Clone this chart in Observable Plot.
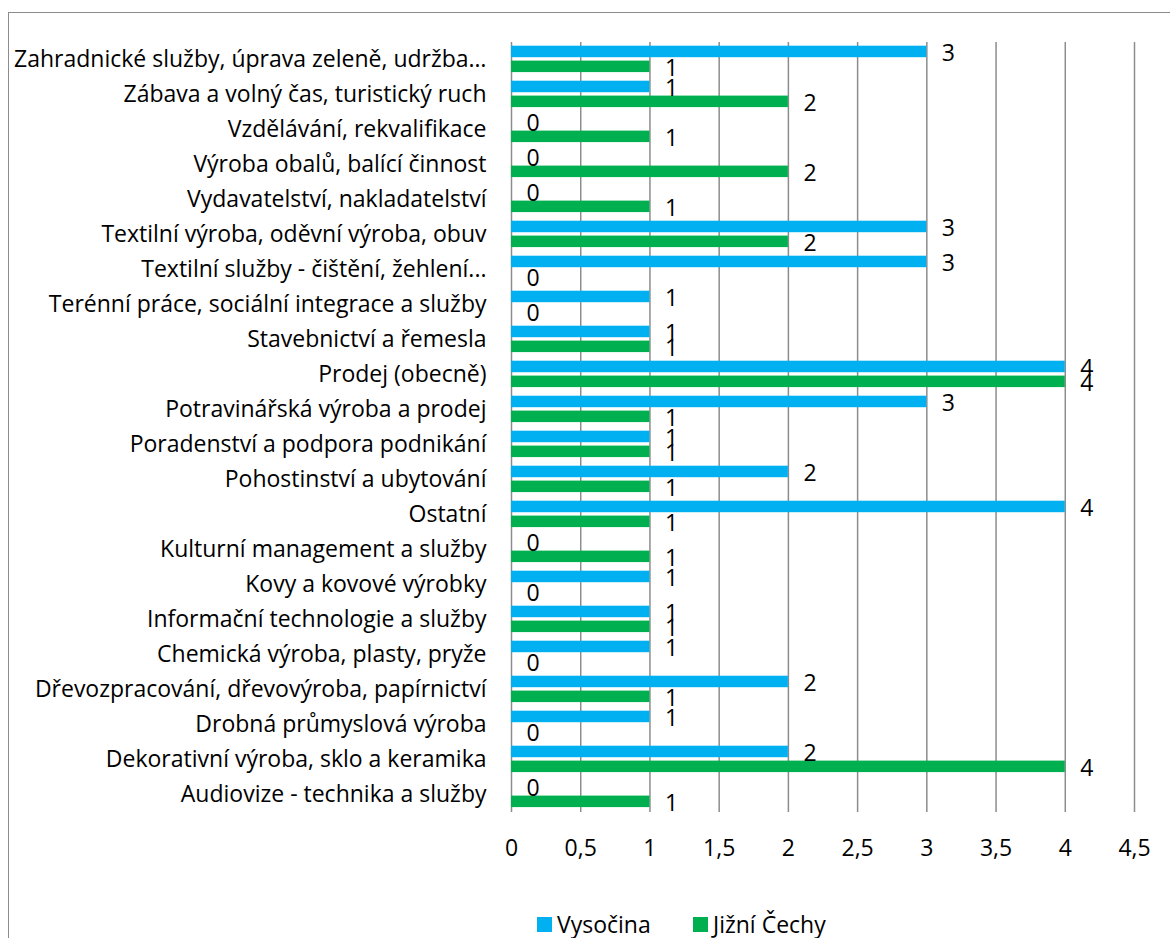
<!DOCTYPE html>
<html>
<head>
<meta charset="utf-8">
<script src="https://cdn.jsdelivr.net/npm/d3@7"></script>
<script src="https://cdn.jsdelivr.net/npm/@observablehq/plot@0.6"></script>
<style>
  html, body { margin: 0; padding: 0; background: #fff; }
  body { width: 1170px; height: 938px; position: relative; overflow: hidden; font-family: "Open Sans", sans-serif; }
  #frame { position: absolute; left: 8px; top: 12px; width: 1200px; height: 1000px; border-left: 1.5px solid #8c8c8c; border-top: 1.5px solid #8c8c8c; box-sizing: border-box; }
  #chart { position: absolute; left: 0; top: 0; }
  .item { position: absolute; top: 909px; display: flex; align-items: center; font-size: 23px; color: #000; line-height: 30px; }
  .sw { width: 15px; height: 15px; display: inline-block; margin-right: 5px; }
</style>
</head>
<body>
<div id="frame"></div>
<div id="chart"></div>
<div id="legend"></div>
<script>
const categories = [
  "Zahradnické služby, úprava zeleně, udržba…",
  "Zábava a volný čas, turistický ruch",
  "Vzdělávání, rekvalifikace",
  "Výroba obalů, balící činnost",
  "Vydavatelství, nakladatelství",
  "Textilní výroba, oděvní výroba, obuv",
  "Textilní služby - čištění, žehlení...",
  "Terénní práce, sociální integrace a služby",
  "Stavebnictví a řemesla",
  "Prodej (obecně)",
  "Potravinářská výroba a prodej",
  "Poradenství a podpora podnikání",
  "Pohostinství a ubytování",
  "Ostatní",
  "Kulturní management a služby",
  "Kovy a kovové výrobky",
  "Informační technologie a služby",
  "Chemická výroba, plasty, pryže",
  "Dřevozpracování, dřevovýroba, papírnictví",
  "Drobná průmyslová výroba",
  "Dekorativní výroba, sklo a keramika",
  "Audiovize - technika a služby"
];
const series = ["Vysočina", "Jižní Čechy"];
const vysocina = [3, 1, 0, 0, 0, 3, 3, 1, 1, 4, 3, 1, 2, 4, 0, 1, 1, 1, 2, 1, 2, 0];
const jizniCechy = [1, 2, 1, 2, 1, 2, 0, 0, 1, 4, 1, 1, 1, 1, 1, 0, 1, 0, 1, 0, 4, 1];
const xTicks = [0, 0.5, 1, 1.5, 2, 2.5, 3, 3.5, 4, 4.5];
const colors = ["#00B0F0", "#00B050"];
const legendLeft = [537, 693];

const rows = [];
categories.forEach((c, i) => {
  rows.push({cat: c, series: series[0], value: vysocina[i]});
  rows.push({cat: c, series: series[1], value: jizniCechy[i]});
});

const plot = Plot.plot({
  width: 1170,
  height: 870,
  marginTop: 42,
  marginBottom: 58,
  marginLeft: 511,
  marginRight: 36,
  style: {fontFamily: "'Open Sans', sans-serif", fontSize: "23px", color: "#000", background: "transparent"},
  facet: {data: rows, y: "cat"},
  fy: {domain: categories, padding: 0, label: null, tickSize: 0, tickPadding: 25},
  y: {domain: series, paddingInner: 0.228, paddingOuter: 0.289, align: 0.43, round: false, axis: null},
  x: {domain: [0, 4.5], ticks: xTicks, tickFormat: d => String(d).replace(".", ","), tickSize: 0, tickPadding: 27, label: null, line: false},
  color: {domain: series, range: colors},
  marks: [
    Plot.ruleX(xTicks, {stroke: "#8c8c8c", strokeWidth: 1.5}),
    Plot.barX(rows, {x: "value", y: "series", fill: "series"}),
    Plot.text(rows, {x: "value", y: "series", text: d => String(d.value), textAnchor: "start", dx: 15, dy: 2, fontSize: 23, fill: "#000"})
  ]
});
document.getElementById("chart").appendChild(plot);

const legend = document.getElementById("legend");
series.forEach((s, i) => {
  const item = document.createElement("div");
  item.className = "item";
  item.style.left = legendLeft[i] + "px";
  const sw = document.createElement("span");
  sw.className = "sw";
  sw.style.background = colors[i];
  item.appendChild(sw);
  const t = document.createElement("span");
  t.textContent = s;
  item.appendChild(t);
  legend.appendChild(item);
});
</script>
</body>
</html>
